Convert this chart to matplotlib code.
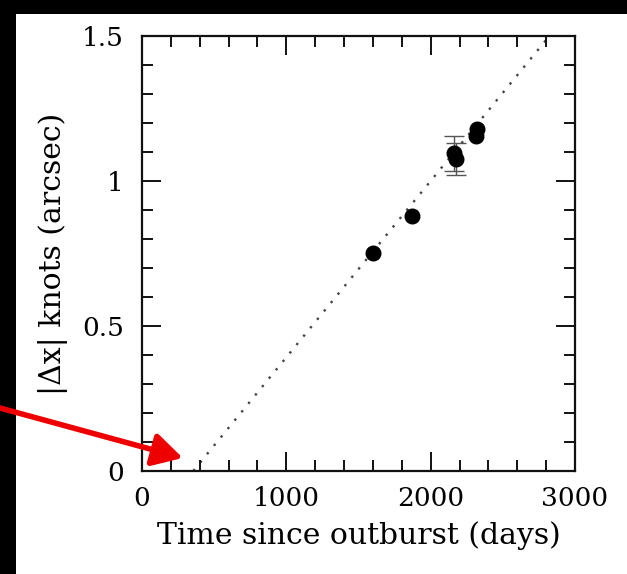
import numpy as np
import matplotlib
matplotlib.use("Agg")
import matplotlib.pyplot as plt
from matplotlib.patches import Rectangle

# knot separation vs time since outburst
t_days = np.array([1602, 1868, 2165, 2173, 2312, 2318])
dx_arcsec = np.array([0.753, 0.880, 1.095, 1.075, 1.155, 1.178])
dx_err = np.array([0.0, 0.0, 0.06, 0.055, 0.0, 0.0])

# linear expansion fit: dx = rate * (t - t0)
t0 = 355.0
rate = 6.08e-4

xticks = [0, 1000, 2000, 3000]
yticks = [0, 0.5, 1, 1.5]
yticklabels = ["0", "0.5", "1", "1.5"]

plt.rcParams['font.family'] = ['DejaVu Serif']

W, H = 627, 574
fig = plt.figure(figsize=(W / 100, H / 100), dpi=100)
fig.patch.set_facecolor('white')

# black frame strips left and top
fig.patches.append(Rectangle((0, 0), 16 / W, 1, transform=fig.transFigure,
                             facecolor='black', edgecolor='none', zorder=-10))
fig.patches.append(Rectangle((0, 1 - 14 / H), 1, 14 / H, transform=fig.transFigure,
                             facecolor='black', edgecolor='none', zorder=-10))

ax = fig.add_axes([142 / W, 103 / H, 433 / W, 435 / H])
ax.set_zorder(5)

t_end = t0 + 1.5 / rate
tl = np.array([t0, t_end])
ax.plot(tl, rate * (tl - t0), color='#444444', lw=1.7, linestyle=(0, (1, 3.6)), zorder=1)

m = dx_err > 0
ax.errorbar(t_days[m], dx_arcsec[m], yerr=dx_err[m], fmt='none', ecolor='#555555',
            elinewidth=1.0, capsize=7, capthick=1.0, zorder=2)
ax.plot(t_days, dx_arcsec, 'o', color='black', ms=10.5, zorder=3)

ax.set_xlim(0, 3000)
ax.set_ylim(0, 1.5)
ax.set_xticks(xticks)
ax.set_xticks(np.arange(0, 3001, 200), minor=True)
ax.set_yticks(yticks)
ax.set_yticklabels(yticklabels)
ax.set_yticks(np.arange(0, 1.51, 0.1), minor=True)

ax.tick_params(which='both', direction='in', top=True, right=True, width=1.4, color='#111111')
ax.tick_params(which='major', length=14, labelsize=19)
ax.tick_params(which='minor', length=8)
ax.tick_params(axis='x', which='major', pad=11)
ax.tick_params(axis='y', which='major', pad=13)
for s in ax.spines.values():
    s.set_linewidth(1.6)
    s.set_color('#111111')

ax.set_xlabel('Time since outburst (days)', fontsize=21.5, labelpad=7)
ax.set_ylabel('|Δx| knots (arcsec)', fontsize=21.5, labelpad=10)

# red arrow pointing to the zero intercept
ax.annotate('', xy=(283, 0.045), xycoords='data',
            xytext=(0.0, 1 - 408 / H), textcoords='figure fraction',
            arrowprops=dict(arrowstyle='-|>,head_length=1.8,head_width=1.0',
                            color='#ee0000', lw=4, shrinkA=0, shrinkB=0),
            annotation_clip=False)

fig.savefig('out.png', dpi=100)
